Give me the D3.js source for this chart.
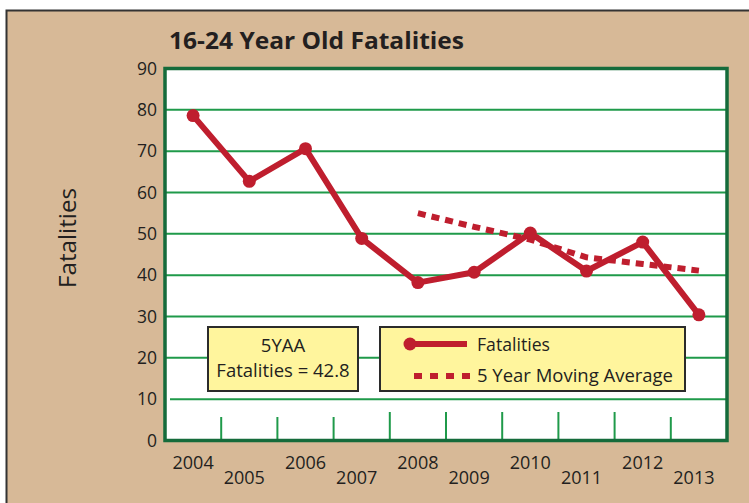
<!DOCTYPE html>
<html><head><meta charset="utf-8">
<script src="https://cdn.jsdelivr.net/npm/d3@7"></script>
<style>body{margin:0;background:#fff}svg{display:block}</style>
</head><body>
<script>
const years = ["2004","2005","2006","2007","2008","2009","2010","2011","2012","2013"];
const fatalities = [78.6, 62.7, 70.6, 48.9, 38.2, 40.7, 50.2, 41.0, 48.0, 30.4];
const maYears = ["2008","2009","2010","2011","2012","2013"];
const movingAvg = [55.0, 51.7, 48.6, 44.3, 42.7, 41.1];
const yTicks = [0,10,20,30,40,50,60,70,80,90];
const title = "16-24 Year Old Fatalities";
const yTitle = "Fatalities";
const noteLines = ["5YAA", "Fatalities = 42.8"];
const legendLabels = ["Fatalities", "5 Year Moving Average"];

const W = 749, H = 503;
const red = "#bf1e2e", grid = "#1f9a4a", frame = "#156b3b";
const font = "'Open Sans', sans-serif";
const svg = d3.select("body").append("svg").attr("width", W).attr("height", H);
svg.append("rect").attr("x", 6).attr("y", 10).attr("width", W).attr("height", H).attr("fill", "#d7b997");
svg.append("path").attr("d", `M6.5,${H} V10.5 H${W}`).attr("fill","none").attr("stroke","#333").attr("stroke-width",2);

const m = {l:165, r:727, t:68.5, b:440.5};
const x = d3.scaleBand().domain(years).range([m.l, m.r]);
const y = d3.scaleLinear().domain([0,90]).range([m.b, m.t]);

svg.append("rect").attr("x", m.l).attr("y", m.t).attr("width", m.r-m.l).attr("height", m.b-m.t).attr("fill","#fff");

// gridlines
svg.append("g").selectAll("line").data(yTicks.filter(d=>d>0 && d<90)).join("line")
  .attr("x1", d=> d===10 ? m.l+5 : m.l).attr("x2", m.r).attr("y1", d=>y(d)).attr("y2", d=>y(d))
  .attr("stroke", grid).attr("stroke-width", 2);

// category separators
svg.append("g").selectAll("line").data(years.slice(1)).join("line")
  .attr("x1", d=>x(d)).attr("x2", d=>x(d)).attr("y1", m.b).attr("y2", (d,i)=> i>=3 && i<=7 ? 412 : 417)
  .attr("stroke", grid).attr("stroke-width", 2);

// frame
svg.append("rect").attr("x", m.l).attr("y", m.t).attr("width", m.r-m.l).attr("height", m.b-m.t)
  .attr("fill","none").attr("stroke", frame).attr("stroke-width", 3.5);

// y axis labels
const yAxis = d3.axisLeft(y).tickValues(yTicks).tickSize(0).tickPadding(7);
const ya = svg.append("g").attr("transform", `translate(${m.l-1},0)`).call(yAxis);
ya.select(".domain").remove();
ya.selectAll("text").attr("font-family", font).attr("font-size",17.5).attr("fill","#231f20");

// x axis labels
const xAxis = d3.axisBottom(x).tickSize(0).tickPadding(0);
const xa = svg.append("g").attr("transform", `translate(0,${m.b})`).call(xAxis);
xa.select(".domain").remove();
xa.selectAll("text").attr("font-family", font).attr("font-size",18).attr("fill","#231f20")
  .attr("dy", null)
  .attr("y", (d,i)=> i%2===0 ? 28 : 43)
  .attr("x", (d,i)=> i%2===0 ? 0 : -5);

// title
svg.append("text").attr("x", 169).attr("y", 49).text(title)
  .attr("font-family", font).attr("font-weight","bold").attr("font-size",23.5)
  .attr("fill","#231f20").attr("textLength", 295).attr("lengthAdjust","spacingAndGlyphs");

// y title
svg.append("text").attr("transform","translate(76,238) rotate(-90)").attr("text-anchor","middle")
  .text(yTitle).attr("font-family", font).attr("font-size",23).attr("fill","#231f20")
  .attr("textLength", 100).attr("lengthAdjust","spacingAndGlyphs");

// moving average
const cx = d => x(d) + x.bandwidth()/2;
svg.append("path").datum(maYears.map((d,i)=>[cx(d), y(movingAvg[i])]))
  .attr("d", d3.line()).attr("fill","none").attr("stroke", red).attr("stroke-width", 6)
  .attr("stroke-dasharray","8,6");

// fatalities line
svg.append("path").datum(years.map((d,i)=>[cx(d), y(fatalities[i])]))
  .attr("d", d3.line()).attr("fill","none").attr("stroke", red).attr("stroke-width", 6).attr("stroke-linejoin","round");
svg.append("g").selectAll("circle").data(fatalities).join("circle")
  .attr("cx", (d,i)=>cx(years[i])).attr("cy", d=>y(d)).attr("r", 6.5).attr("fill", red);

// note box
svg.append("rect").attr("x", 208).attr("y", 327).attr("width", 150).attr("height", 64)
  .attr("fill","#fff59d").attr("stroke","#2b2b2b").attr("stroke-width",2);
svg.append("g").selectAll("text").data(noteLines).join("text")
  .attr("x", 283).attr("y", (d,i)=> 352 + i*25).attr("text-anchor","middle").text(d=>d)
  .attr("font-family", font).attr("font-size", 18.5).attr("fill","#231f20");

// legend
svg.append("rect").attr("x", 380).attr("y", 327).attr("width", 305).attr("height", 64)
  .attr("fill","#fff59d").attr("stroke","#2b2b2b").attr("stroke-width",2);
svg.append("line").attr("x1",410).attr("x2",467).attr("y1",344).attr("y2",344).attr("stroke",red).attr("stroke-width",6);
svg.append("circle").attr("cx",410).attr("cy",344).attr("r",6.5).attr("fill",red);
svg.append("line").attr("x1",414).attr("x2",470).attr("y1",376).attr("y2",376).attr("stroke",red).attr("stroke-width",6).attr("stroke-dasharray","8,8");
svg.append("g").selectAll("text").data(legendLabels).join("text")
  .attr("x", 477).attr("y", (d,i)=> 351 + i*31).text(d=>d)
  .attr("font-family", font).attr("font-size", 18.5).attr("fill","#231f20")
  .attr("textLength", (d,i)=> i===0 ? 73 : 196).attr("lengthAdjust","spacingAndGlyphs");
</script>
</body></html>
